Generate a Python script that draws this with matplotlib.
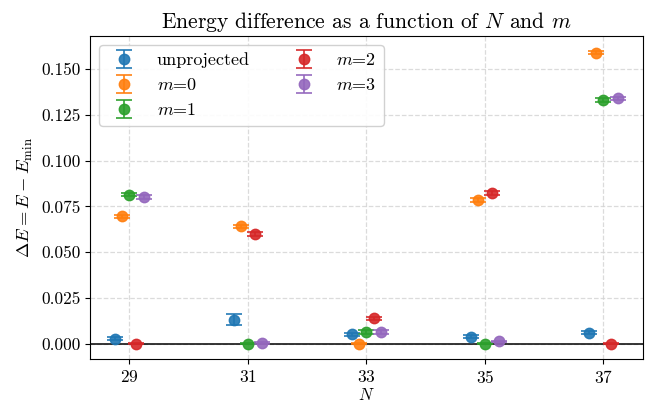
import numpy as np
import matplotlib
matplotlib.use("Agg")
import matplotlib.pyplot as plt
from matplotlib.ticker import MultipleLocator, FormatStrFormatter

plt.rcParams["font.family"] = "serif"
plt.rcParams["font.serif"] = ["cmr10", "DejaVu Serif"]
plt.rcParams["mathtext.fontset"] = "cm"
plt.rcParams["axes.unicode_minus"] = False
plt.rcParams["axes.formatter.use_mathtext"] = True

# ── data ──────────────────────────────────────────────────────────────────────
N_values = [29, 31, 33, 35, 37]
labels = ["unprojected", "$m$=0", "$m$=1", "$m$=2", "$m$=3"]

dE_unprojected = [0.0028, 0.0131, 0.0053, 0.0038, 0.0060]
dE_m0 = [0.0696, 0.0641, 0.0000, 0.0787, 0.1591]
dE_m1 = [0.0815, 0.0000, 0.0064, 0.0000, 0.1331]
dE_m2 = [0.0000, 0.0599, 0.0138, 0.0823, 0.0000]
dE_m3 = [0.0801, 0.0004, 0.0064, 0.0013, 0.1340]

err_unprojected = [0.0008, 0.0029, 0.0008, 0.0008, 0.0008]
err_m0 = [0.0010, 0.0010, 0.0003, 0.0010, 0.0010]
err_m1 = [0.0010, 0.0003, 0.0010, 0.0003, 0.0010]
err_m2 = [0.0003, 0.0010, 0.0010, 0.0010, 0.0003]
err_m3 = [0.0010, 0.0003, 0.0010, 0.0003, 0.0010]

series = [dE_unprojected, dE_m0, dE_m1, dE_m2, dE_m3]
errors = [err_unprojected, err_m0, err_m1, err_m2, err_m3]
colors = ["tab:blue", "tab:orange", "tab:green", "tab:red", "tab:purple"]

# ── plot ──────────────────────────────────────────────────────────────────────
fig, ax = plt.subplots(figsize=(6.5, 4.03), dpi=100)
fig.subplots_adjust(left=0.1385, right=0.989, top=0.9107, bottom=0.1092)

x = np.array(N_values, dtype=float)
for i, (y, e, lab, c) in enumerate(zip(series, errors, labels, colors)):
    ax.errorbar(x + (i - 2) * 0.12, y, yerr=e, fmt="o", color=c, label=lab,
                markersize=7.5, capsize=6, elinewidth=1.3, capthick=1.3,
                alpha=0.9, zorder=3)

ax.axhline(0, color="black", linewidth=1.1, zorder=2)
ax.set_xticks(N_values)
ax.yaxis.set_major_locator(MultipleLocator(0.025))
ax.yaxis.set_major_formatter(FormatStrFormatter("%.3f"))
ax.grid(True, linestyle="--", color="lightgray", alpha=0.8, linewidth=0.9)
ax.set_xlabel("$N$", fontsize=12, labelpad=1)
ax.set_ylabel(r"$\Delta E = E - E_{\rm min}$", fontsize=13.3)
ax.set_title("Energy difference as a function of $N$ and $m$", fontsize=15.5)
ax.tick_params(labelsize=12.5)
ax.legend(ncol=2, loc="upper left", fontsize=13, framealpha=0.9)

plt.savefig("out.png", dpi=100)
